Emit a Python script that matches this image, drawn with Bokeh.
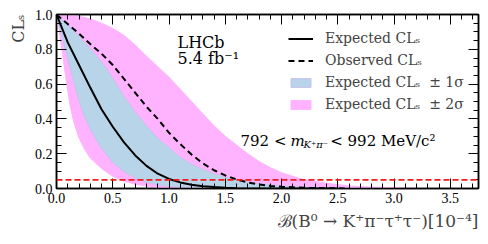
import numpy as np
from bokeh.plotting import figure
from bokeh.models import (Label, Span, Legend, LegendItem, LinearAxis, FixedTicker,
                          CustomJSTickFormatter, PrintfTickFormatter, Title)
from bokeh.embed import file_html
from bokeh.resources import INLINE

# ---------------- data ----------------
exp_x = [0.0, 0.1, 0.2, 0.3, 0.4, 0.5, 0.6, 0.7, 0.8, 0.9, 1.0, 1.1, 1.2, 1.3, 1.4, 1.5, 1.6, 1.8, 2.0, 2.5]
exp_y = [1.0, 0.84, 0.71, 0.58, 0.455, 0.355, 0.265, 0.19, 0.13, 0.085, 0.055, 0.035, 0.022, 0.013, 0.008, 0.004, 0.002, 0.0005, 0.0, 0.0]

obs_x = [0.0, 0.1, 0.2, 0.3, 0.4, 0.5, 0.6, 0.7, 0.8, 0.9, 1.0, 1.1, 1.2, 1.3, 1.4, 1.5, 1.6, 1.7, 1.8, 1.9, 2.0, 2.2, 2.4, 2.6]
obs_y = [1.0, 0.945, 0.89, 0.83, 0.775, 0.71, 0.63, 0.55, 0.47, 0.40, 0.32, 0.255, 0.195, 0.145, 0.105, 0.075, 0.052, 0.035, 0.023, 0.015, 0.01, 0.004, 0.0015, 0.0005]

band2_up_x = [0.0, 0.1, 0.2, 0.3, 0.4, 0.5, 0.6, 0.7, 0.8, 0.9, 1.0, 1.1, 1.2, 1.3, 1.4, 1.5, 1.6, 1.7, 1.8, 1.9, 2.0, 2.1, 2.2, 2.4, 2.6, 2.8, 3.0, 3.3]
band2_up_y = [1.0, 0.998, 0.99, 0.975, 0.95, 0.92, 0.88, 0.825, 0.76, 0.70, 0.64, 0.57, 0.50, 0.43, 0.36, 0.30, 0.25, 0.20, 0.155, 0.12, 0.09, 0.07, 0.05, 0.03, 0.015, 0.008, 0.004, 0.0]
band2_lo_x = [0.0, 0.02, 0.04, 0.06, 0.08, 0.1, 0.12, 0.15, 0.2, 0.25, 0.3, 0.4, 0.5, 0.6, 0.7, 0.8, 0.9, 1.0, 1.2, 1.4]
band2_lo_y = [1.0, 0.93, 0.83, 0.745, 0.65, 0.56, 0.48, 0.39, 0.29, 0.225, 0.175, 0.115, 0.07, 0.042, 0.025, 0.014, 0.008, 0.004, 0.001, 0.0]

band1_up_x = [0.0, 0.1, 0.2, 0.3, 0.4, 0.5, 0.6, 0.7, 0.8, 0.9, 1.0, 1.1, 1.2, 1.3, 1.4, 1.5, 1.6, 1.7, 1.8, 2.0, 2.2, 2.5, 2.8]
band1_up_y = [1.0, 0.94, 0.875, 0.805, 0.73, 0.635, 0.53, 0.44, 0.36, 0.29, 0.235, 0.18, 0.14, 0.11, 0.085, 0.065, 0.05, 0.038, 0.028, 0.015, 0.008, 0.002, 0.0]
band1_lo_x = [0.0, 0.05, 0.1, 0.15, 0.2, 0.25, 0.3, 0.4, 0.5, 0.6, 0.7, 0.8, 0.9, 1.0, 1.2, 1.4, 1.6]
band1_lo_y = [1.0, 0.87, 0.745, 0.62, 0.5, 0.41, 0.34, 0.23, 0.15, 0.095, 0.06, 0.035, 0.02, 0.012, 0.004, 0.001, 0.0]

cl_limit = 0.05

x_major = [0.0, 0.5, 1.0, 1.5, 2.0, 2.5, 3.0, 3.5]
x_minor = [round(0.1 * i, 2) for i in range(38)]
y_major = [0.0, 0.2, 0.4, 0.6, 0.8, 1.0]
y_minor = [round(0.05 * i, 2) for i in range(21)]

labels = ["Expected CLₛ", "Observed CLₛ", "Expected CLₛ  ± 1σ", "Expected CLₛ  ± 2σ"]

# ---------------- styling ----------------
TICKFONT = "Liberation Serif"
FONT = "DejaVu Serif"
PINK = "#ffb3ff"
BLUE = "#b7d4e8"

p = figure(width=480, height=236, x_range=(0, 3.75), y_range=(0, 1.0),
           output_backend="svg", toolbar_location=None,
           min_border_left=56, min_border_right=2, min_border_top=14, min_border_bottom=48)
p.xgrid.visible = False
p.ygrid.visible = False
p.outline_line_color = "black"
p.outline_line_width = 1.5
p.background_fill_color = "white"
p.border_fill_color = "white"

def style_axis(ax, ticks, minor, show_labels):
    ax.ticker = FixedTicker(ticks=ticks, minor_ticks=minor)
    ax.major_tick_in = 10
    ax.major_tick_out = 0
    ax.minor_tick_in = 5
    ax.minor_tick_out = 0
    ax.axis_line_color = "black"
    ax.axis_line_width = 1.5
    ax.major_tick_line_color = "black"
    ax.minor_tick_line_color = "black"
    ax.major_tick_line_width = 1
    ax.minor_tick_line_width = 1
    ax.major_label_text_font = TICKFONT
    ax.major_label_text_font_size = "14px"
    ax.major_label_text_color = "black"
    ax.major_label_standoff = 4
    if show_labels:
        ax.formatter = PrintfTickFormatter(format="%.1f")
    else:
        ax.formatter = CustomJSTickFormatter(code="return ''")
        ax.major_label_standoff = 0

style_axis(p.xaxis[0], x_major, x_minor, True)
style_axis(p.yaxis[0], y_major, y_minor, True)
top_ax = LinearAxis()
right_ax = LinearAxis()
style_axis(top_ax, x_major, x_minor, False)
style_axis(right_ax, y_major, y_minor, False)
p.add_layout(top_ax, "above")
p.add_layout(right_ax, "right")

# axis titles placed at the ends of the axes
p.add_layout(Title(text="ℬ(B⁰ → K⁺π⁻τ⁺τ⁻)[10⁻⁴]", align="right", text_font=FONT,
                   text_font_size="17px", text_font_style="normal", standoff=7), "below")
p.add_layout(Title(text="CLₛ", align="right", text_font=FONT,
                   text_font_size="16px", text_font_style="normal", standoff=7), "left")

# bands (polygons from upper edge + reversed lower edge)
r2 = p.patch(band2_up_x + band2_lo_x[::-1], band2_up_y + band2_lo_y[::-1],
             fill_color=PINK, line_color=PINK, line_width=1)
r1 = p.patch(band1_up_x + band1_lo_x[::-1], band1_up_y + band1_lo_y[::-1],
             fill_color=BLUE, line_color="#c8c0ec", line_width=1)

p.add_layout(Span(location=cl_limit, dimension="width", line_color="#ee1c1c",
                  line_dash="6 3", line_width=1.8))

r_exp = p.line(exp_x, exp_y, line_color="black", line_width=2)
r_obs = p.line(obs_x, obs_y, line_color="black", line_width=2, line_dash="6 4")

legend = Legend(items=[LegendItem(label=labels[0], renderers=[r_exp]),
                       LegendItem(label=labels[1], renderers=[r_obs]),
                       LegendItem(label=labels[2], renderers=[r1]),
                       LegendItem(label=labels[3], renderers=[r2])],
                location=(232, 73))
legend.background_fill_alpha = 0
legend.border_line_alpha = 0
legend.padding = 0
legend.margin = 0
legend.spacing = 0
legend.glyph_width = 25
legend.glyph_height = 11
legend.label_height = 22
legend.label_standoff = 12
legend.label_text_font = FONT
legend.label_text_font_size = "14px"
legend.label_text_baseline = "middle"
p.add_layout(legend, "center")

def add_label(text, x, y, size, align="left", style="normal"):
    p.add_layout(Label(x=x, y=y, x_units="screen", y_units="screen", text=text,
                       text_font=FONT, text_font_size=size, text_align=align,
                       text_baseline="alphabetic", text_color="black",
                       text_font_style=style))

add_label("LHCb", 121, 146, "16px")
add_label("5.4 fb⁻¹", 121, 130, "16px")
add_label("792 <", 184, 48, "15px")
add_label("m", 234, 48, "15px", style="italic")
add_label("K⁺π⁻", 247, 44, "10px", style="italic")
add_label("< 992 MeV/c²", 379, 48, "15px", align="right")

open("out.html", "w").write(file_html(p, INLINE))
